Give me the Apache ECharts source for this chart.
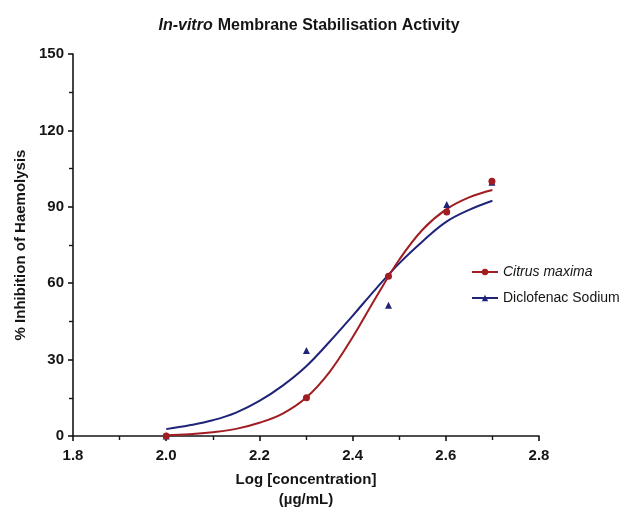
<!DOCTYPE html>
<html>
<head>
<meta charset="utf-8">
<script src="https://cdn.jsdelivr.net/npm/echarts@6/dist/echarts.min.js"></script>
<style>
  html, body { margin: 0; padding: 0; background: #fff; }
  #chart { width: 626px; height: 508px; }
</style>
</head>
<body>
<div id="chart"></div>
<script>
// Log concentration of each tested dose (100, 200, 300, 400, 500 µg/mL)
const logDose = [2.0, 2.301, 2.477, 2.602, 2.699];
const citrusObserved = [0, 15.0, 62.7, 88.0, 100];
const diclofenacObserved = [0, 33.6, 51.3, 90.9, 99.6];

// Fitted dose-response curves sampled along the x range
const curveX = [2.0, 2.05, 2.1, 2.15, 2.2, 2.25, 2.3, 2.35, 2.4, 2.45, 2.5, 2.55, 2.6, 2.65, 2.7];
const citrusFit = [0.3, 0.7, 1.5, 2.8, 5.2, 8.8, 15.0, 25.0, 38.8, 54.4, 69.2, 81.0, 88.9, 93.7, 96.6];
const diclofenacFit = [2.7, 4.2, 6.2, 9.2, 13.8, 19.8, 27.3, 36.9, 47.2, 57.8, 67.8, 76.4, 84.0, 88.8, 92.4];

const xTicks = { min: 1.8, max: 2.8, step: 0.2 };
const yTicks = { min: 0, max: 150, step: 30 };

const RED = '#a11d22';
const BLUE = '#1f2478';
const INK = '#151515';
const FONT = 'Liberation Sans, Arial, sans-serif';

const pair = (xs, ys) => xs.map((x, i) => [x, ys[i]]);

const chart = echarts.init(document.getElementById('chart'));

const axisCommon = {
  axisLine: { show: true, lineStyle: { color: INK, width: 1.6 } },
  axisTick: { show: true, inside: false, length: 5, lineStyle: { color: INK, width: 1.6 } },
  minorTick: { show: true, splitNumber: 2, length: 4, lineStyle: { color: INK, width: 1.4 } },
  splitLine: { show: false },
  axisLabel: { color: INK, fontFamily: FONT, fontSize: 15, fontWeight: 'bold' }
};

chart.setOption({
  animation: false,
  backgroundColor: '#fff',
  title: {
    text: '{i|In-vitro} {b|Membrane Stabilisation Activity}',
    left: 304,
    textAlign: 'center',
    top: 12,
    textStyle: {
      rich: {
        i: { fontFamily: FONT, fontSize: 16, fontWeight: 'bold', fontStyle: 'italic', color: INK },
        b: { fontFamily: FONT, fontSize: 16, fontWeight: 'bold', color: INK }
      }
    }
  },
  // fixed plot rectangle; axis names sit outside it without shrinking it
  grid: { left: 73, right: 87, top: 54, bottom: 72, containLabel: false, outerBoundsMode: 'none' },
  xAxis: Object.assign({}, axisCommon, {
    type: 'value',
    min: xTicks.min,
    max: xTicks.max,
    interval: xTicks.step,
    axisLabel: Object.assign({}, axisCommon.axisLabel, {
      margin: 12,
      formatter: v => v.toFixed(1)
    }),
    name: 'Log [concentration]\n(µg/mL)',
    nameLocation: 'middle',
    nameGap: 34,
    nameTextStyle: {
      fontFamily: FONT, fontSize: 15, fontWeight: 'bold', color: INK,
      lineHeight: 20, verticalAlign: 'top'
    }
  }),
  yAxis: Object.assign({}, axisCommon, {
    type: 'value',
    min: yTicks.min,
    max: yTicks.max,
    interval: yTicks.step,
    axisLabel: Object.assign({}, axisCommon.axisLabel, { margin: 9 }),
    name: '% Inhibition of Haemolysis',
    nameLocation: 'middle',
    nameGap: 42,
    nameTextStyle: { fontFamily: FONT, fontSize: 15, fontWeight: 'bold', color: INK }
  }),
  legend: {
    orient: 'vertical',
    left: 466,
    top: 260,
    itemGap: 12,
    itemWidth: 26,
    itemHeight: 8,
    data: ['Citrus maxima', 'Diclofenac Sodium'],
    formatter: name => name === 'Citrus maxima' ? '{i|' + name + '}' : '{n|' + name + '}',
    textStyle: {
      color: INK,
      rich: {
        i: { fontFamily: FONT, fontSize: 14, fontStyle: 'italic', color: INK },
        n: { fontFamily: FONT, fontSize: 14, color: INK }
      }
    }
  },
  series: [
    {
      name: 'Citrus maxima',
      type: 'line',
      smooth: 0.4,
      showSymbol: false,
      symbol: 'circle',
      symbolSize: 7,
      itemStyle: { color: RED },
      lineStyle: { color: RED, width: 2 },
      data: pair(curveX, citrusFit),
      z: 3
    },
    {
      name: 'Diclofenac Sodium',
      type: 'line',
      smooth: 0.4,
      showSymbol: false,
      symbol: 'triangle',
      symbolSize: 7,
      itemStyle: { color: BLUE },
      lineStyle: { color: BLUE, width: 2 },
      data: pair(curveX, diclofenacFit),
      z: 2
    },
    {
      name: 'Citrus maxima points',
      type: 'scatter',
      symbol: 'circle',
      symbolSize: 7,
      itemStyle: { color: RED, opacity: 1 },
      data: pair(logDose, citrusObserved),
      z: 5
    },
    {
      name: 'Diclofenac Sodium points',
      type: 'scatter',
      symbol: 'triangle',
      symbolSize: 7,
      itemStyle: { color: BLUE, opacity: 1 },
      data: pair(logDose, diclofenacObserved),
      z: 4
    }
  ]
});
</script>
</body>
</html>
